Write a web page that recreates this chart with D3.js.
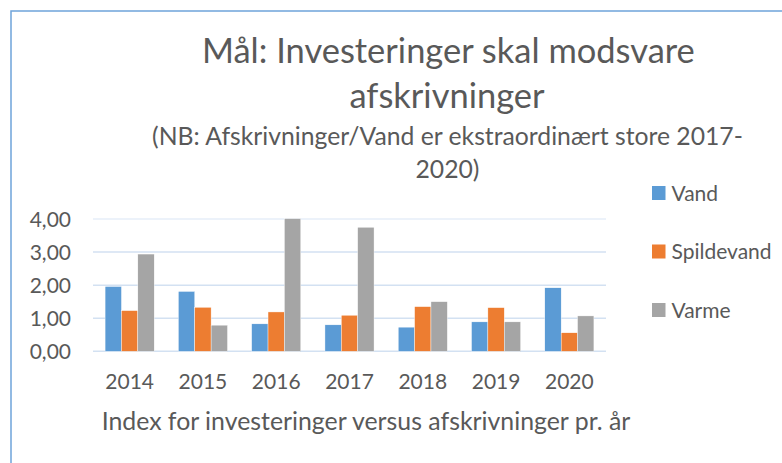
<!DOCTYPE html>
<html>
<head>
<meta charset="utf-8">
<script src="https://cdn.jsdelivr.net/npm/d3@7"></script>
<style>
  body { margin: 0; background: #fff; }
  text { font-family: Lato, "Open Sans", sans-serif; fill: #595959; }
</style>
</head>
<body>
<script>
// data
var years = ["2014", "2015", "2016", "2017", "2018", "2019", "2020"];
var seriesNames = ["Vand", "Spildevand", "Varme"];
var vand = [1.96, 1.81, 0.83, 0.80, 0.73, 0.89, 1.92];
var spildevand = [1.23, 1.33, 1.19, 1.09, 1.35, 1.32, 0.56];
var varme = [2.94, 0.79, 4.01, 3.75, 1.50, 0.89, 1.07];
var yTicks = [0, 1, 2, 3, 4];
var colors = ["#5b9bd5", "#ed7d31", "#a5a5a5"];

var titleLines = ["Mål: Investeringer skal modsvare", "afskrivninger"];
var subLines = ["(NB: Afskrivninger/Vand er ekstraordinært store 2017-", "2020)"];
var xTitle = "Index for investeringer versus afskrivninger pr. år";

var w = 782, h = 463;
var values = [vand, spildevand, varme];

var svg = d3.select("body").append("svg")
    .attr("width", w)
    .attr("height", h);

// chart border (only top and left visible)
svg.append("rect")
    .attr("x", 11).attr("y", 11)
    .attr("width", 900).attr("height", 600)
    .attr("fill", "none")
    .attr("stroke", "#6fa4da")
    .attr("stroke-width", 1.5);

var x0 = d3.scaleBand().domain(years).range([93, 606]);
var x1 = d3.scaleBand().domain(seriesNames)
    .range([x0.bandwidth() * 0.165, x0.bandwidth() * 0.835]);
var yScale = d3.scaleLinear().domain([0, 4]).range([351.3, 219]);

// gridlines
svg.append("g")
    .selectAll("line")
    .data(yTicks)
    .enter()
    .append("line")
    .attr("x1", 93).attr("x2", 606)
    .attr("y1", function (d) { return yScale(d); })
    .attr("y2", function (d) { return yScale(d); })
    .attr("stroke", function (d) { return d == 4 ? "#e6eef8" : "#d3e1f2"; })
    .attr("stroke-width", 1.5);

// bars
seriesNames.forEach(function (s, i) {
    svg.append("g")
        .selectAll("rect")
        .data(values[i])
        .enter()
        .append("rect")
        .attr("x", function (d, j) { return x0(years[j]) + x1(s); })
        .attr("y", function (d) { return yScale(d); })
        .attr("width", x1.bandwidth())
        .attr("height", function (d) { return yScale(0) - yScale(d); })
        .attr("fill", colors[i])
        .attr("stroke", "#fff")
        .attr("stroke-width", 0.4);
});

// y axis labels
var yAxis = d3.axisLeft(yScale)
    .tickValues(yTicks)
    .tickSize(0)
    .tickPadding(0)
    .tickFormat(function (d) { return d3.format(".2f")(d).replace(".", ","); });
var gy = svg.append("g")
    .attr("transform", "translate(71,0)")
    .call(yAxis);
gy.select(".domain").remove();
gy.selectAll("text")
    .attr("font-size", 21)
    .attr("dy", "0.36em")
    .style("font-family", "Lato, sans-serif")
    .attr("fill", "#595959");

// x axis labels
var xAxis = d3.axisBottom(x0).tickSize(0).tickPadding(0);
var gx = svg.append("g")
    .attr("transform", "translate(0,389)")
    .call(xAxis);
gx.select(".domain").remove();
gx.selectAll("text")
    .attr("font-size", 21)
    .attr("dy", 0)
    .attr("y", 0)
    .style("font-family", "Lato, sans-serif")
    .attr("fill", "#595959");

function fit(t, width) {
    var len = t.node().getComputedTextLength();
    var fs = parseFloat(t.attr("font-size"));
    t.attr("font-size", fs * width / len);
    return fs * width / len;
}

// title
var t1 = svg.append("text")
    .attr("x", 448.4).attr("y", 63)
    .attr("text-anchor", "middle")
    .attr("font-size", 32)
    .text(titleLines[0]);
var tfs = fit(t1, 493);
svg.append("text")
    .attr("x", 447).attr("y", 108)
    .attr("text-anchor", "middle")
    .attr("font-size", tfs)
    .text(titleLines[1]);

var s1 = svg.append("text")
    .attr("x", 447.5).attr("y", 145)
    .attr("text-anchor", "middle")
    .attr("font-size", 22)
    .text(subLines[0]);
var sfs = fit(s1, 591);
svg.append("text")
    .attr("x", 447.5).attr("y", 178)
    .attr("text-anchor", "middle")
    .attr("font-size", sfs)
    .text(subLines[1]);

// x axis title
var xt = svg.append("text")
    .attr("x", 366).attr("y", 430)
    .attr("text-anchor", "middle")
    .attr("font-size", 21)
    .text(xTitle);
fit(xt, 529);

// legend
var legend = svg.append("g")
    .selectAll("g")
    .data(seriesNames)
    .enter()
    .append("g")
    .attr("transform", function (d, i) { return "translate(652," + (186 + i * 58.5) + ")"; });
legend.append("rect")
    .attr("width", 13.5).attr("height", 14)
    .attr("fill", function (d, i) { return colors[i]; });
legend.append("text")
    .attr("x", 19.5).attr("y", 14.5)
    .attr("font-size", 21)
    .text(function (d) { return d; });
</script>
</body>
</html>
